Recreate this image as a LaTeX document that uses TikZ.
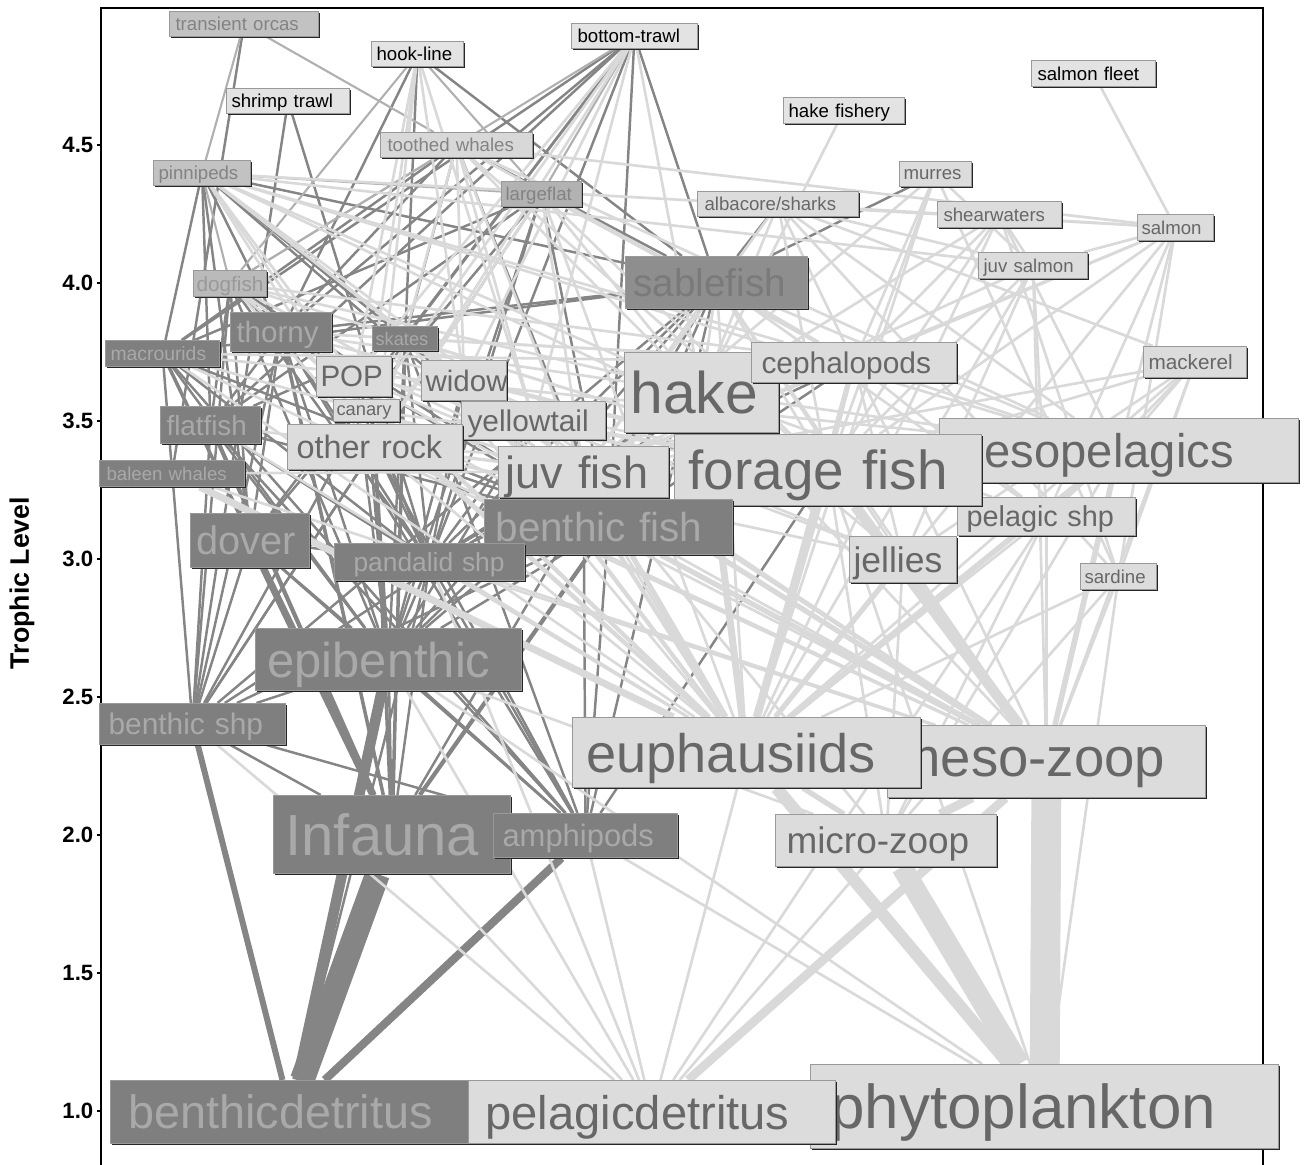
\documentclass[tikz,border=0pt]{standalone}
\usepackage{fontspec}
\setmainfont{Liberation Sans}
\usetikzlibrary{shadows}
\hyphenpenalty=10000
\exhyphenpenalty=10000
\definecolor{dkfill}{HTML}{7F7F7F}
\definecolor{dktext}{HTML}{A9A9A9}
\definecolor{sbfill}{HTML}{8E8E8E}
\definecolor{sbtext}{HTML}{7A7A7A}
\definecolor{mdfill}{HTML}{C2C2C2}
\definecolor{mdtext}{HTML}{838383}
\definecolor{ltfill}{HTML}{DCDCDC}
\definecolor{lttext}{HTML}{676767}
\definecolor{fyfill}{HTML}{E3E3E3}
\definecolor{dkline}{HTML}{858585}
\definecolor{mdline}{HTML}{B0B0B0}
\definecolor{ltline}{HTML}{D9D9D9}
\pgfdeclarelayer{links}
\pgfsetlayers{links,main}

\begin{document}
\begin{tikzpicture}[x=0.01cm,y=-0.01cm,
  box/.style={draw=black!40,line width=0.3pt,anchor=north west,inner ysep=0pt,align=left,
    text depth=0pt,font=\fontsize{5.3}{6}\selectfont,
    drop shadow={shadow xshift=0.018cm,shadow yshift=-0.018cm,fill=black!85,opacity=1}},
  bx/.style n args={3}{text width=(#1-2*#3)*0.01cm,minimum height=#2*0.01cm,inner xsep=#3*0.01cm},
  fs/.style={font=\fontsize{#1}{#1}\selectfont},
  dk node/.style={box,fill=dkfill,text=dktext},
  sb node/.style={box,fill=sbfill,text=sbtext},
  md node/.style={box,fill=mdfill,text=mdtext},
  lt node/.style={box,fill=ltfill,text=lttext},
  fy node/.style={box,fill=fyfill,text=black},
  dk edge/.style={draw=dkline,line width=0.7pt},
  md edge/.style={draw=mdline,line width=0.6pt},
  lt edge/.style={draw=ltline,line width=0.75pt},
  tick label/.style={anchor=east,inner sep=0pt,font=\bfseries\fontsize{6.3}{7}\selectfont}]

  \useasboundingbox (0,0) rectangle (1309,1165);
  \draw[line width=0.6pt] (101,1165) -- (101,8) -- (1263,8) -- (1263,1165);
  \foreach \t/\y [count=\i] in {1.0/1111,1.5/973,2.0/835,2.5/697,3.0/559,3.5/421,4.0/283,4.5/145} {
    \draw[line width=0.6pt] (97,\y) -- (101,\y);
    \node[tick label] (ytick\i) at (94,\y) {\t};
  }
  \node[rotate=90,font=\bfseries\fontsize{7.6}{8}\selectfont] (ylab) at (22,583) {Trophic Level};

  \node[md node, bx={149}{25}{6}] (orca) at (169,11) {transient orcas};
  \node[fy node, bx={92}{25}{5}] (hookl) at (371,41) {hook-line};
  \node[fy node, bx={126}{25}{6}] (btrawl) at (571,23) {bottom-trawl};
  \node[fy node, bx={123}{25}{5}] (shrimp) at (226,88) {shrimp~trawl};
  \node[fy node, bx={124}{26}{6}] (sfleet) at (1031,60) {salmon~fleet};
  \node[fy node, bx={121}{26}{5}] (hfish) at (783,97) {hake~fishery};
  \node[md node, bx={152}{25}{7}, fill=ltfill!85!mdfill] (tooth) at (380,132) {toothed~whales};
  \node[md node, bx={97}{25}{5}] (pinn) at (153,160) {pinnipeds};
  \node[md node, bx={80}{25}{4}, fill=black!30] (lflat) at (501,181) {largeflat};
  \node[lt node, bx={72}{25}{4}] (murre) at (899,161) {murres};
  \node[lt node, bx={161}{25}{7}] (alba) at (697,191) {albacore/sharks};
  \node[lt node, bx={124}{26}{6}] (shear) at (937,201) {shearwaters};
  \node[lt node, bx={76}{26}{4}] (salm) at (1137,214) {salmon};
  \node[lt node, bx={109}{26}{5}] (jsalm) at (978,252) {juv~salmon};
  \node[sb node, bx={182}{52}{8}, fs=11] (sable) at (625,256) {sablefish};
  \node[md node, bx={73}{26}{3}, fs=5.9, fill=black!27, text=black!40] (dogf) at (193,270) {dogfish};
  \node[dk node, bx={101}{39}{6}, fs=8.4] (thorny) at (230,312) {thorny};
  \node[dk node, bx={65}{24}{3}, fs=5.2] (skate) at (372,326) {skates};
  \node[dk node, bx={114}{26}{5}, fs=5.5] (macro) at (105,340) {macrourids};
  \node[lt node, bx={75}{40}{4}, fs=8.4] (pop) at (316,356) {POP};
  \node[lt node, bx={85}{40}{4}, fs=8.4] (widow) at (421,360) {widow};
  \node[lt node, bx={154}{80}{6}, fs=16.7] (hake) at (624,352) {hake};
  \node[lt node, bx={205}{40}{10}, fs=8.5] (ceph) at (751,342) {cephalopods};
  \node[lt node, bx={103}{31}{5}, fs=5.9] (mack) at (1143,346) {mackerel};
  \node[lt node, bx={66}{22}{3}, fs=5.2] (canary) at (333,399) {canary};
  \node[dk node, bx={100}{37}{6}, fs=7.9] (flat) at (160,406) {flatfish};
  \node[lt node, bx={144}{38}{6}, fs=8.5] (ytail) at (461,401) {yellowtail};
  \node[lt node, bx={175}{45}{9}, fs=9.2] (orock) at (287,424) {other~rock};
  \node[lt node, bx={359}{64}{6}, fs=13.4] (meso) at (939,418) {mesopelagics};
  \node[lt node, bx={178}{38}{9}, fs=8.2] (pshp) at (957,497) {pelagic~shp};
  \node[lt node, bx={307}{71}{14}, fs=15.6] (forage) at (674,434) {forage~fish};
  \node[lt node, bx={170}{51}{7}, fs=12.8] (jfish) at (498,446) {juv~fish};
  \node[dk node, bx={145}{26}{7}] (baleen) at (99,460) {baleen~whales};
  \node[dk node, bx={248}{55}{11}, fs=11.5] (bfish) at (484,499) {benthic~fish};
  \node[dk node, bx={119}{54}{6}, fs=11.3] (dover) at (190,513) {dover};
  \node[lt node, bx={107}{46}{4}, fs=10.1] (jelly) at (849,536) {jellies};
  \node[dk node, bx={190}{37}{19}, fs=7.5] (pand) at (334,543) {pandalid~shp};
  \node[lt node, bx={76}{26}{4}] (sard) at (1080,563) {sardine};
  \node[dk node, bx={266}{62}{12}, fs=13.9] (epib) at (255,628) {epibenthic};
  \node[dk node, bx={186}{41}{9}, fs=8.5] (bshp) at (99,703) {benthic~shp};
  \node[lt node, bx={318}{72}{8}, fs=15.5] (mzoop) at (887,725) {meso-zoop};
  \node[lt node, bx={348}{70}{14}, fs=15.4] (euph) at (572,717) {euphausiids};
  \node[dk node, bx={237}{78}{12}, fs=16.5] (infa) at (273,795) {Infauna};
  \node[dk node, bx={184}{44}{9}, fs=8.8] (amph) at (493,813) {amphipods};
  \node[lt node, bx={221}{52}{11}, fs=10.5] (uzoop) at (775,814) {micro-zoop};
  \node[dk node, bx={360}{63}{18}, fs=13.3] (bdet) at (110,1080) {benthicdetritus};
  \node[lt node, bx={468}{84}{20}, fs=17.6] (phyto) at (810,1064) {phytoplankton};
  \node[lt node, bx={367}{63}{17}, fs=13.4] (pdet) at (468,1080) {pelagicdetritus};

  \begin{pgfonlayer}{links}
  \path[dk edge]
    (btrawl) edge (sable) edge (dover) edge (flat) edge (thorny) edge (skate) edge (macro) edge (bfish) edge (pand)
    (hookl) edge (sable) edge (thorny) edge (skate)
    (shrimp) edge (pand) edge (bshp)
    (orca) edge (baleen)
    (tooth) edge (sable) edge (thorny) edge (macro) edge (bfish) edge (skate)
    (pinn) edge (sable) edge (thorny) edge (skate) edge (macro) edge (flat) edge (dover) edge (bfish)
    (lflat) edge (flat) edge (dover) edge (bfish) edge (pand) edge (epib) edge (bshp) edge (macro)
    (alba) edge (sable)
    (murre) edge (sable)
    (dogf) edge (thorny) edge (bfish) edge (pand) edge (epib) edge (flat) edge (dover) edge (bshp)
    (sable) edge (thorny) edge (bfish) edge (pand) edge (epib) edge (infa) edge (amph) edge (bshp) edge (macro)
    (thorny) edge (bfish) edge (pand) edge (epib) edge[line width=1pt] (infa) edge (amph) edge (bshp) edge (flat) edge (dover)
    (skate) edge (bfish) edge (pand) edge (epib) edge[line width=1pt] (infa) edge (amph) edge (bshp) edge (flat)
    (macro) edge (pand) edge (epib) edge[line width=1pt] (infa) edge (amph) edge (bshp) edge (bfish)
    (pop) edge (pand) edge (epib)
    (widow) edge (epib) edge (pand)
    (ceph) edge (bfish) edge (pand)
    (hake) edge (pand) edge (bfish) edge (epib) edge (bshp)
    (canary) edge (epib) edge (pand)
    (flat) edge (bfish) edge (pand) edge (epib) edge[line width=1.2pt] (infa) edge (amph) edge (bshp)
    (ytail) edge (pand) edge (epib)
    (orock) edge (bfish) edge (pand) edge (epib) edge[line width=1pt] (infa) edge (amph) edge (bshp)
    (forage) edge (amph)
    (jfish) edge (epib) edge (amph) edge (pand)
    (bfish) edge (epib) edge[line width=1.2pt] (infa) edge (amph) edge (bshp) edge (pand)
    (dover) edge[line width=2pt] (infa) edge (epib) edge (amph) edge (bshp) edge (pand)
    (pand) edge (epib) edge (infa) edge (amph) edge (bdet)
    (epib) edge[line width=3pt] (bdet) edge (infa) edge (amph)
    (bshp) edge[line width=1.7pt] (bdet) edge (infa) edge (amph) edge (epib)
    (infa) edge[line width=7pt] (bdet)
    (amph) edge[line width=2.3pt] (bdet);
  \path[md edge]
    (orca) edge (pinn) edge (tooth)
    (btrawl) edge (lflat) edge (dogf)
    (hookl) edge (dogf) edge (lflat)
    (tooth) edge (dogf)
    (pinn) edge (dogf) edge (lflat);
  \path[lt edge]
    (hfish) edge (hake)
    (sfleet) edge (salm)
    (hookl) edge (orock) edge (ytail) edge (widow) edge (pop) edge (canary)
    (btrawl) edge (pop) edge (widow) edge (ytail) edge (canary) edge (orock) edge (hake)
    (tooth) edge (hake) edge (ceph) edge (forage) edge (meso) edge (jfish) edge (orock) edge (salm) edge (widow) edge (ytail)
    (pinn) edge (hake) edge (forage) edge (ceph) edge (meso) edge (jfish) edge (orock) edge (pop) edge (widow) edge (ytail) edge (canary) edge (salm) edge (jsalm)
    (lflat) edge (hake) edge (forage) edge (ceph) edge (jfish) edge (orock) edge (euph)
    (alba) edge (hake) edge (forage) edge (ceph) edge (jfish) edge (meso) edge (salm) edge (jsalm) edge (mack) edge (sard)
    (murre) edge (forage) edge (jfish) edge (jsalm) edge (euph) edge (sard) edge (ceph)
    (shear) edge (forage) edge (jfish) edge (ceph) edge (euph) edge (sard) edge (meso) edge (jsalm)
    (salm) edge (forage) edge (jfish) edge (ceph) edge (euph) edge (jsalm) edge (pshp) edge (meso) edge (sard)
    (jsalm) edge (euph) edge (forage) edge (jfish) edge (mzoop) edge (pshp) edge (jelly)
    (mack) edge (euph) edge (forage) edge (jfish) edge (mzoop) edge (sard) edge (pshp) edge (meso) edge (jelly)
    (dogf) edge (hake) edge (forage) edge (ceph) edge (jfish) edge (euph) edge (orock) edge (pop)
    (sable) edge (hake) edge (forage) edge (ceph) edge (jfish) edge (euph) edge (meso) edge (jelly) edge (pshp) edge (mzoop)
    (thorny) edge (forage) edge (ceph) edge (jfish) edge (euph) edge (hake)
    (skate) edge (forage) edge (jfish) edge (euph) edge (ceph)
    (macro) edge (euph) edge (mzoop) edge (ceph) edge (jfish) edge (meso)
    (pop) edge[line width=1.2pt] (euph) edge (mzoop) edge (jfish) edge (pshp)
    (widow) edge[line width=1.2pt] (euph) edge (mzoop) edge (jfish) edge (jelly) edge (pshp) edge (forage)
    (ceph) edge (forage) edge (jfish) edge[line width=1.5pt] (euph) edge (meso) edge (pshp) edge (mzoop) edge (jelly)
    (hake) edge[line width=2pt] (euph) edge (forage) edge (jfish) edge (meso) edge (pshp) edge (mzoop) edge (jelly)
    (canary) edge[line width=1.2pt] (euph) edge (forage) edge (jfish) edge (mzoop)
    (flat) edge (euph) edge (jfish)
    (ytail) edge[line width=1.2pt] (euph) edge (mzoop) edge (jfish) edge (forage) edge (jelly) edge (pshp)
    (orock) edge (euph) edge (jfish) edge (mzoop) edge (forage) edge (jelly)
    (meso) edge[line width=1.6pt] (euph) edge[line width=1.6pt] (mzoop) edge (uzoop) edge (pshp)
    (forage) edge[line width=2.3pt] (euph) edge[line width=3pt] (mzoop) edge (uzoop) edge (phyto)
    (jfish) edge[line width=1.5pt] (euph) edge[line width=1.5pt] (mzoop) edge (uzoop)
    (baleen) edge[line width=2pt] (euph) edge (forage) edge (mzoop)
    (bfish) edge (euph) edge[line width=1.5pt] (mzoop)
    (pshp) edge (euph) edge (mzoop) edge (uzoop) edge (pdet) edge (phyto)
    (jelly) edge[line width=1.5pt] (euph) edge[line width=1.5pt] (mzoop) edge (uzoop)
    (pand) edge (euph) edge (mzoop) edge (pdet)
    (sard) edge (mzoop) edge (uzoop) edge (phyto) edge (euph)
    (epib) edge (pdet) edge (uzoop) edge (phyto)
    (bshp) edge (pdet)
    (euph) edge[line width=3.5pt] (phyto) edge[line width=1.5pt] (uzoop) edge (pdet)
    (mzoop) edge[line width=8.5pt] (phyto) edge[line width=2.5pt] (uzoop) edge[line width=2.5pt] (pdet)
    (infa) edge (pdet)
    (amph) edge (pdet) edge (phyto)
    (uzoop) edge[line width=6pt] (phyto) edge (pdet);
  \end{pgfonlayer}
\end{tikzpicture}
\end{document}
